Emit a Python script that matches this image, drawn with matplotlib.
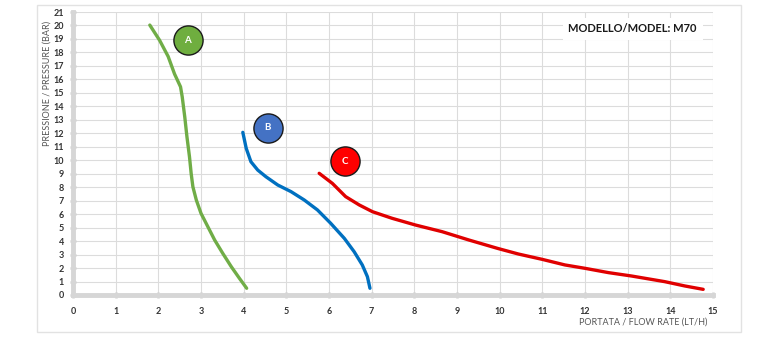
import matplotlib
matplotlib.use("Agg")
import matplotlib.pyplot as plt
from matplotlib.patches import Rectangle

plt.rcParams['font.family'] = ['Lato', 'DejaVu Sans']

# Curve A (green)
a_flow = [1.80, 2.03, 2.23, 2.38, 2.52, 2.56, 2.62, 2.67, 2.73, 2.77, 2.81, 2.89, 3.00, 3.16, 3.32, 3.51, 3.71, 3.90, 4.07]
a_pres = [20.03, 18.9, 17.7, 16.4, 15.45, 14.7, 13.2, 11.75, 10.26, 9.0, 8.03, 7.05, 6.06, 5.07, 4.08, 3.09, 2.10, 1.24, 0.5]
# Curve B (blue)
b_flow = [3.98, 4.06, 4.17, 4.33, 4.52, 4.80, 5.11, 5.42, 5.73, 6.04, 6.36, 6.59, 6.78, 6.90, 6.96]
b_pres = [12.07, 10.88, 9.89, 9.27, 8.78, 8.16, 7.67, 7.05, 6.31, 5.32, 4.20, 3.21, 2.23, 1.36, 0.5]
# Curve C (red)
c_flow = [5.77, 6.08, 6.39, 6.71, 7.02, 7.48, 8.03, 8.65, 9.28, 9.95, 10.44, 10.99, 11.53, 12.0, 12.55, 13.09, 13.87, 14.34, 14.77]
c_pres = [9.03, 8.28, 7.30, 6.68, 6.18, 5.69, 5.19, 4.70, 4.08, 3.46, 3.04, 2.65, 2.23, 1.98, 1.66, 1.41, 0.99, 0.67, 0.42]

labels = ['A', 'B', 'C']
label_x = [2.69, 4.56, 6.38]
label_y = [18.9, 12.4, 9.94]
line_colors = ['#70AD47', '#0070C0', '#E00000']
badge_colors = ['#6FAE3F', '#4472C4', '#FF0000']

x_ticks = list(range(0, 16))
y_ticks = list(range(0, 22))

W, H = 767, 340
fig = plt.figure(figsize=(W / 100, H / 100), dpi=100)
fig.patch.set_facecolor('white')

# outer frame
fig.patches.append(Rectangle((37 / W, 1 - 332 / H), (741 - 37) / W, (332 - 5) / H,
                             transform=fig.transFigure, fill=False,
                             edgecolor='#e2e2e2', linewidth=1.0))

ax = fig.add_axes([73 / W, 1 - 295 / H, (713 - 73) / W, (295 - 12) / H])
ax.set_xlim(0, 15)
ax.set_ylim(0, 21)
ax.set_xticks(x_ticks)
ax.set_yticks(y_ticks)
ax.grid(True, color='#dcdcdc', linewidth=0.8)
ax.set_axisbelow(True)

for s in ['top', 'right']:
    ax.spines[s].set_visible(False)
for s in ['left', 'bottom']:
    ax.spines[s].set_color('#d6d6d6')
    ax.spines[s].set_linewidth(3.5)
ax.tick_params(axis='both', direction='inout', length=5, width=1.8, color='#cfcfcf',
               labelsize=6.5, labelcolor='#333333')
ax.tick_params(axis='x', pad=6)
ax.tick_params(axis='y', pad=4)
for lab in ax.get_xticklabels() + ax.get_yticklabels():
    lab.set_fontweight('bold')

for fx, py, col in [(a_flow, a_pres, line_colors[0]), (b_flow, b_pres, line_colors[1]),
                    (c_flow, c_pres, line_colors[2])]:
    ax.plot(fx, py, color=col, linewidth=2.4, solid_capstyle='round',
            solid_joinstyle='round', zorder=3)

for lab, lx, ly, bc in zip(labels, label_x, label_y, badge_colors):
    ax.plot([lx], [ly], marker='o', markersize=21, markerfacecolor=bc,
            markeredgecolor='#1a1a1a', markeredgewidth=1.0, zorder=4)
    ax.text(lx, ly, lab, color='white', fontsize=7, fontweight='bold',
            ha='center', va='center', zorder=5)

ax.text(0.975, 0.94, 'MODELLO/MODEL: M70', transform=ax.transAxes, fontsize=8,
        fontweight='bold', color='#1a1a1a', ha='right', va='center',
        bbox=dict(facecolor='white', edgecolor='none', pad=4), zorder=6)

fig.text(47 / W, 1 - 83 / H, 'PRESSIONE / PRESSURE (BAR)', rotation=90, fontsize=6.5,
         color='#555555', ha='center', va='center')
fig.text(707 / W, 1 - 322 / H, 'PORTATA / FLOW RATE (LT/H)', fontsize=6.5,
         color='#555555', ha='right', va='center')

fig.savefig('out.png', dpi=100)
